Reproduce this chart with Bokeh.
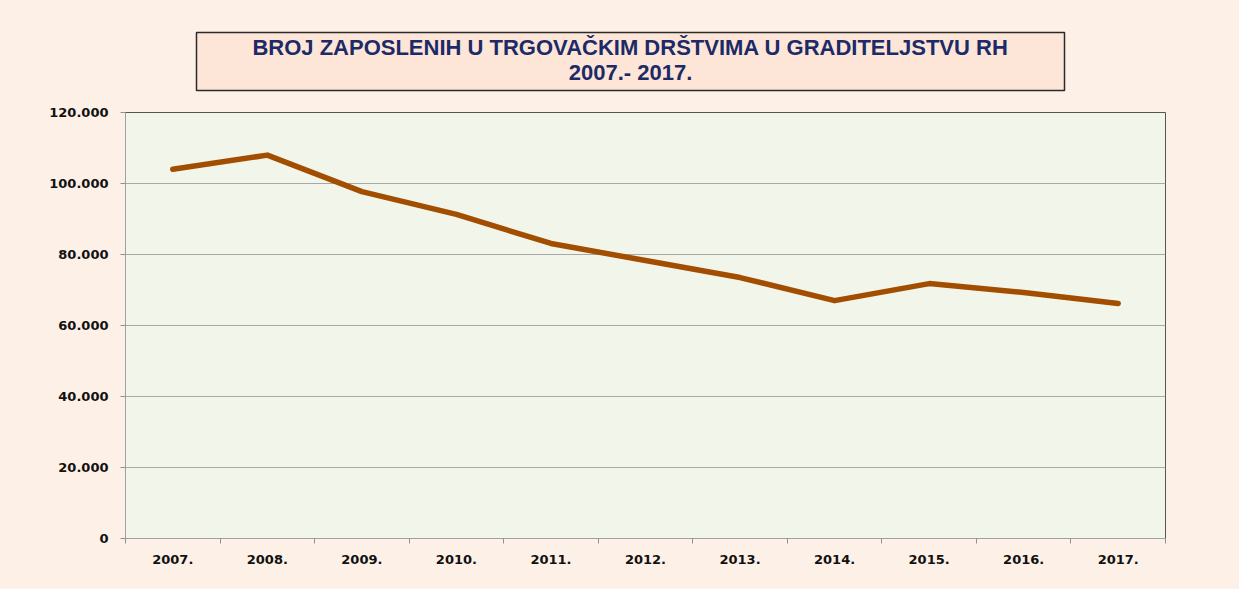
from bokeh.plotting import figure
from bokeh.layouts import column
from bokeh.models import Range1d, FixedTicker
from bokeh.core.properties import value
from bokeh.embed import file_html
from bokeh.resources import INLINE

# ---- data ----
years = ["2007.", "2008.", "2009.", "2010.", "2011.", "2012.", "2013.", "2014.", "2015.", "2016.", "2017."]
employees = [104000, 108000, 97700, 91300, 83100, 78300, 73500, 67000, 71800, 69300, 66200]
y_ticks = [0, 20000, 40000, 60000, 80000, 100000, 120000]
y_tick_labels = ["0", "20.000", "40.000", "60.000", "80.000", "100.000", "120.000"]
title_lines = ["BROJ ZAPOSLENIH U TRGOVAČKIM DRŠTVIMA U GRADITELJSTVU RH", "2007.- 2017."]

BG = "#fdf0e6"
PLOT_BG = "#f1f5ea"
W = 1239
FL, FR = 125, 1165  # frame edges (page px), shared by both figures

# ---- title figure (frame aligned with chart frame; coords = page px) ----
th = 104
t = figure(width=W, height=th, output_backend="svg", toolbar_location=None,
           x_range=Range1d(FL, FR), y_range=Range1d(th, 0),
           min_border=0, min_border_left=FL, min_border_right=W - FR,
           border_fill_color=BG, background_fill_color=BG,
           outline_line_color=None)
t.axis.visible = False
t.grid.visible = False
t.quad(left=[196], right=[1064], top=[32], bottom=[90],
       fill_color="#fde6d8", line_color="#2a2a2a", line_width=1.5)
t.text(x=[630, 630], y=[47, 72], text=title_lines,
       text_font=value("Liberation Sans"), text_font_style="bold",
       text_font_size="22px", text_color="#1c2a66",
       text_align="center", text_baseline="middle")

# ---- chart figure ----
xs = [i + 0.5 for i in range(len(years))]
p = figure(width=W, height=485, output_backend="svg", toolbar_location=None,
           x_range=Range1d(0, len(years)), y_range=Range1d(0, 120000),
           min_border_left=FL, min_border_right=W - FR, min_border_top=8, min_border_bottom=51,
           border_fill_color=BG, background_fill_color=PLOT_BG,
           outline_line_color="#555555", outline_line_width=1)

p.line(xs, employees, line_color="#a24d00", line_width=5.5, line_join="round", line_cap="round")

# x axis: labels at centers, ticks at boundaries
p.xaxis.ticker = FixedTicker(ticks=xs, minor_ticks=list(range(len(years) + 1)))
p.xaxis.major_label_overrides = {x: lab for x, lab in zip(xs, years)}
p.xaxis.major_tick_line_color = None
p.xaxis.major_tick_out = 0
p.xaxis.major_tick_in = 0
p.xaxis.minor_tick_line_color = "#909090"
p.xaxis.minor_tick_out = 5
p.xaxis.minor_tick_in = 0
p.xaxis.major_label_standoff = 11
p.xaxis.axis_line_color = "#a0a0a0"

p.yaxis.ticker = FixedTicker(ticks=y_ticks, minor_ticks=[])
p.yaxis.major_label_overrides = {v: lab for v, lab in zip(y_ticks, y_tick_labels)}
p.yaxis.major_tick_line_color = "#909090"
p.yaxis.major_tick_out = 5
p.yaxis.major_tick_in = 0
p.yaxis.major_label_standoff = 12
p.yaxis.axis_line_color = "#a0a0a0"

for ax in (p.xaxis, p.yaxis):
    ax.major_label_text_font = "DejaVu Sans"
    ax.major_label_text_font_style = "bold"
    ax.major_label_text_font_size = "13px"
    ax.major_label_text_color = "#111111"

p.xgrid.visible = False
p.ygrid.ticker = FixedTicker(ticks=y_ticks)
p.ygrid.grid_line_color = "#a8a8a8"
p.ygrid.grid_line_width = 1

layout = column(t, p, spacing=0, styles={"background-color": BG})

open("out.html", "w").write(file_html(layout, INLINE))
